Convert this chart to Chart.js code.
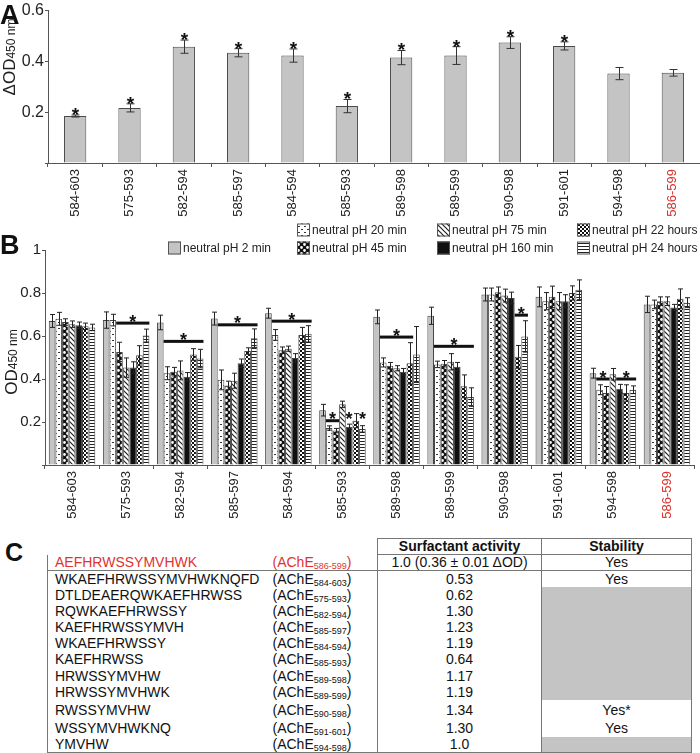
<!DOCTYPE html>
<html>
<head>
<meta charset="utf-8">
<script src="https://cdn.jsdelivr.net/npm/chart.js@4.4.1/dist/chart.umd.min.js"></script>
<style>
  body { margin: 0; background: #fff; font-family: "Liberation Sans", Arial, sans-serif; }
  #page { position: relative; width: 700px; height: 753px; overflow: hidden; }
  #boxA { position: absolute; left: 0; top: 0; }
  #boxB { position: absolute; left: 0; top: 222px; }
  #letterC { position: absolute; left: 5px; top: 538px; font-size: 25px; font-weight: bold; color: #111; }
  #tableC { position: absolute; left: 47px; top: 538px; border-collapse: collapse; table-layout: fixed; font-size: 14px; color: #111; }
  #tableC tr { height: 16.2px; }
  #tableC td { padding: 0; height: 16.2px; line-height: 15px; white-space: nowrap; overflow: hidden; box-sizing: border-box; }
  #tableC th { padding: 0; height: 14px; line-height: 13px; font-size: 14px; border: 1px solid #777; }
  #tableC sub { font-size: 9px; line-height: 0; vertical-align: -2px; }
  .seq { padding-left: 7px !important; border-left: 1px solid #777; }
  .rng { border-right: 1px solid #777; }
  .val { text-align: center; border-right: 1px solid #777; }
  .stab { text-align: center; border-right: 1px solid #777; }
  .gray { background: #c4c4c4; }
  .red { color: #e0332f; }
  .first td { border-bottom: 1px solid #777; }
  .last td { border-bottom: 1px solid #777; }
</style>
</head>
<body>
<div id="page">
  <div id="boxA"><canvas id="chartA" width="700" height="222"></canvas></div>
  <div id="boxB"><canvas id="chartB" width="700" height="312"></canvas></div>
  <div id="letterC">C</div>
  <table id="tableC">
    <colgroup><col style="width:225px"><col style="width:105px"><col style="width:164px"><col style="width:150px"></colgroup>
    <thead><tr><td colspan="2" style="border:none"></td><th>Surfactant activity</th><th>Stability</th></tr></thead>
    <tbody id="tableBody"></tbody>
  </table>
</div>

<script>
// ================= DATA =================
const peptideLabels = ["584-603", "575-593", "582-594", "585-597", "584-594", "585-593",
  "589-598", "589-599", "590-598", "591-601", "594-598", "586-599"];
const highlightLabel = "586-599";

// panel A
const deltaOD = [0.185, 0.217, 0.458, 0.434, 0.423, 0.224, 0.415, 0.423, 0.474, 0.461, 0.352, 0.355];
const deltaODErr = [0.004, 0.016, 0.026, 0.016, 0.026, 0.026, 0.028, 0.035, 0.023, 0.016, 0.024, 0.013];
const starredA = [true, true, true, true, true, true, true, true, true, true, false, false];

// panel B
const seriesNames = ["neutral pH 2 min", "neutral pH 20 min", "neutral pH 45 min", "neutral pH 75 min",
  "neutral pH 160 min", "neutral pH 22 hours", "neutral pH 24 hours"];
const od2min   = [0.670, 0.674, 0.663, 0.681, 0.706, 0.255, 0.689, 0.694, 0.793, 0.782, 0.427, 0.747];
const od20min  = [0.680, 0.674, 0.427, 0.396, 0.605, 0.172, 0.477, 0.468, 0.793, 0.762, 0.350, 0.747];
const od45min  = [0.665, 0.526, 0.434, 0.370, 0.534, 0.160, 0.462, 0.471, 0.803, 0.782, 0.335, 0.762];
const od75min  = [0.655, 0.453, 0.440, 0.392, 0.541, 0.282, 0.450, 0.480, 0.788, 0.762, 0.422, 0.762];
const od160min = [0.650, 0.453, 0.410, 0.473, 0.498, 0.178, 0.434, 0.457, 0.777, 0.762, 0.355, 0.732];
const od22h    = [0.645, 0.510, 0.514, 0.530, 0.605, 0.206, 0.473, 0.366, 0.503, 0.800, 0.335, 0.773];
const od24h    = [0.640, 0.602, 0.495, 0.590, 0.610, 0.168, 0.514, 0.316, 0.598, 0.815, 0.350, 0.755];

const err2min   = [0.030, 0.038, 0.034, 0.030, 0.023, 0.027, 0.032, 0.040, 0.030, 0.046, 0.023, 0.038];
const err20min  = [0.030, 0.027, 0.030, 0.046, 0.025, 0.010, 0.021, 0.015, 0.030, 0.040, 0.023, 0.020];
const err45min  = [0.015, 0.045, 0.020, 0.020, 0.015, 0.010, 0.015, 0.015, 0.025, 0.050, 0.030, 0.020];
const err75min  = [0.015, 0.045, 0.044, 0.035, 0.012, 0.015, 0.012, 0.038, 0.030, 0.040, 0.027, 0.020];
const err160min = [0.015, 0.027, 0.020, 0.020, 0.020, 0.012, 0.015, 0.020, 0.027, 0.030, 0.020, 0.015];
const err22h    = [0.015, 0.045, 0.027, 0.015, 0.035, 0.033, 0.096, 0.053, 0.053, 0.033, 0.038, 0.046];
const err24h    = [0.015, 0.030, 0.043, 0.043, 0.038, 0.015, 0.130, 0.043, 0.073, 0.046, 0.018, 0.023];

// significance marks in B: group, first series, last series, level of bar
const sigGroup = [1, 2, 3, 4, 5, 5, 5, 6, 7, 8, 10, 10];
const sigFrom  = [2, 1, 1, 1, 1, 4, 6, 1, 1, 5, 1, 4];
const sigTo    = [6, 6, 6, 6, 2, 4, 6, 5, 6, 6, 2, 6];
const sigLevel = [0.660, 0.575, 0.652, 0.669, 0.206, 0.206, 0.206, 0.595, 0.552, 0.697, 0.400, 0.400];

// panel C
const tableSequences = ["AEFHRWSSYMVHWK", "WKAEFHRWSSYMVHWKNQFD", "DTLDEAERQWKAEFHRWSS", "RQWKAEFHRWSSY",
  "KAEFHRWSSYMVH", "WKAEFHRWSSY", "KAEFHRWSS", "HRWSSYMVHW", "HRWSSYMVHWK", "RWSSYMVHW", "WSSYMVHWKNQ", "YMVHW"];
const tableRanges = ["586-599", "584-603", "575-593", "582-594", "585-597", "584-594", "585-593",
  "589-598", "589-599", "590-598", "591-601", "594-598"];
const tableActivity = ["1.0 (0.36 \u00b1 0.01 \u0394OD)", "0.53", "0.62", "1.30", "1.23", "1.19", "0.64",
  "1.17", "1.19", "1.34", "1.30", "1.0"];
const tableStability = ["Yes", "Yes", null, null, null, null, null, null, null, "Yes*", "Yes", null];

// ================= STYLE =================
const FONT = "'Liberation Sans', Arial, sans-serif";
const RED = "#d9302b";
Chart.defaults.font.family = FONT;

function makePattern(size, draw) {
  const c = document.createElement("canvas");
  c.width = c.height = size;
  const g = c.getContext("2d");
  draw(g, size);
  return g.createPattern(c, "repeat");
}

const FILLS = [
  "#c4c4c4",
  makePattern(6, (g) => { g.fillStyle = "#fff"; g.fillRect(0, 0, 6, 6); g.fillStyle = "#333"; g.fillRect(1, 1, 2, 1); g.fillRect(4, 4, 2, 1); }),
  makePattern(6, (g) => {
    g.fillStyle = "#111"; g.fillRect(0, 0, 6, 6); g.fillStyle = "#fff";
    g.beginPath(); g.arc(1.5, 1.5, 1.4, 0, Math.PI * 2); g.arc(4.5, 4.5, 1.4, 0, Math.PI * 2); g.fill();
  }),
  makePattern(5, (g) => {
    g.fillStyle = "#fff"; g.fillRect(0, 0, 5, 5); g.strokeStyle = "#222"; g.lineWidth = 1.2;
    g.beginPath(); g.moveTo(-1, -1); g.lineTo(6, 6); g.moveTo(-1, 4); g.lineTo(1, 6); g.moveTo(4, -1); g.lineTo(6, 1); g.stroke();
  }),
  "#111",
  makePattern(4, (g) => { g.fillStyle = "#fff"; g.fillRect(0, 0, 4, 4); g.fillStyle = "#111"; g.fillRect(0, 0, 2, 2); g.fillRect(2, 2, 2, 2); }),
  makePattern(3, (g) => { g.fillStyle = "#fff"; g.fillRect(0, 0, 3, 3); g.fillStyle = "#222"; g.fillRect(0, 0, 3, 1); })
];

function drawStar(ctx, x, bottom, size) {
  ctx.save();
  ctx.fillStyle = "#111";
  ctx.font = `bold ${size}px ${FONT}`;
  ctx.textAlign = "center";
  ctx.textBaseline = "alphabetic";
  ctx.fillText("*", x, bottom + size * 0.42);
  ctx.restore();
}

function drawErrorBar(ctx, x, top, bot, cap) {
  ctx.beginPath();
  ctx.moveTo(x, top); ctx.lineTo(x, bot);
  ctx.moveTo(x - cap, top); ctx.lineTo(x + cap, top);
  ctx.moveTo(x - cap, bot); ctx.lineTo(x + cap, bot);
  ctx.stroke();
}

// rotated axis title made of [text, size] parts
function drawYTitle(ctx, cx, cy, parts) {
  ctx.save();
  ctx.translate(cx, cy);
  ctx.rotate(-Math.PI / 2);
  ctx.fillStyle = "#222";
  ctx.textBaseline = "middle";
  let total = 0;
  parts.forEach(([t, s]) => { ctx.font = `${s}px ${FONT}`; total += ctx.measureText(t).width; });
  let x = -total / 2;
  parts.forEach(([t, s, dy]) => {
    ctx.font = `${s}px ${FONT}`;
    ctx.fillText(t, x, dy || 0);
    x += ctx.measureText(t).width;
  });
  ctx.restore();
}

function drawLetter(ctx, letter, x, y) {
  ctx.save();
  ctx.fillStyle = "#111";
  ctx.font = `bold 27px ${FONT}`;
  ctx.textBaseline = "alphabetic";
  ctx.fillText(letter, x, y);
  ctx.restore();
}

const xTickColor = (c) => (peptideLabels[c.index] === highlightLabel ? RED : "#222");
const yTickLabel = (v) => (v === 0 ? "" : v === 1 ? "1" : v.toFixed(1));

// ================= PANEL A =================
const panelAExtras = {
  id: "panelAExtras",
  afterDatasetsDraw(chart) {
    const { ctx } = chart;
    const y = chart.scales.y;
    const bars = chart.getDatasetMeta(0).data;
    ctx.save();
    ctx.strokeStyle = "#333";
    ctx.lineWidth = 1;
    bars.forEach((bar, i) => {
      const x = Math.round(bar.x) + 0.5;
      const top = y.getPixelForValue(deltaOD[i] + deltaODErr[i]);
      const bot = y.getPixelForValue(deltaOD[i] - deltaODErr[i]);
      drawErrorBar(ctx, x, top, bot, 4);
      if (starredA[i]) drawStar(ctx, x, top - 2, 19);
    });
    ctx.restore();
    drawLetter(ctx, "A", 0, 24);
    drawYTitle(ctx, 10, 57, [["\u0394OD", 17], ["450 nm", 12, 2]]);
  }
};

new Chart(document.getElementById("chartA"), {
  type: "bar",
  data: {
    labels: peptideLabels,
    datasets: [{
      data: deltaOD,
      backgroundColor: FILLS[0],
      borderColor: "#4a4a4a",
      borderWidth: 1,
      categoryPercentage: 0.41,
      barPercentage: 1
    }]
  },
  options: {
    responsive: false,
    animation: false,
    layout: { padding: { top: 10, right: 0 } },
    plugins: { legend: { display: false }, tooltip: { enabled: false } },
    scales: {
      x: {
        grid: { drawOnChartArea: false, tickLength: 4, color: "#555" },
        border: { color: "#555" },
        ticks: { minRotation: 90, maxRotation: 90, font: { size: 13 }, color: xTickColor, padding: 2 },
        afterFit: (s) => { s.height = 59; }
      },
      y: {
        min: 0,
        max: 0.6,
        grid: { drawOnChartArea: false, tickLength: 3, color: "#555" },
        border: { color: "#555" },
        ticks: { stepSize: 0.2, font: { size: 16 }, color: "#222", padding: 1, callback: yTickLabel },
        afterFit: (s) => { s.width = 48; }
      }
    }
  },
  plugins: [panelAExtras]
});

// ================= PANEL B =================
const seriesValues = [od2min, od20min, od45min, od75min, od160min, od22h, od24h];
const seriesErrors = [err2min, err20min, err45min, err75min, err160min, err22h, err24h];

const panelBExtras = {
  id: "panelBExtras",
  afterDatasetsDraw(chart) {
    const { ctx } = chart;
    const y = chart.scales.y;
    ctx.save();
    ctx.strokeStyle = "#222";
    ctx.lineWidth = 1;
    seriesValues.forEach((vals, d) => {
      chart.getDatasetMeta(d).data.forEach((bar, i) => {
        const x = Math.round(bar.x) + 0.5;
        const top = y.getPixelForValue(vals[i] + seriesErrors[d][i]);
        const bot = y.getPixelForValue(vals[i] - seriesErrors[d][i]);
        drawErrorBar(ctx, x, top, bot, 2.5);
      });
    });
    ctx.restore();

    // significance lines and stars
    ctx.save();
    ctx.fillStyle = "#111";
    sigGroup.forEach((g, k) => {
      const a = chart.getDatasetMeta(sigFrom[k]).data[g];
      const b = chart.getDatasetMeta(sigTo[k]).data[g];
      const left = a.x - a.width / 2;
      const right = b.x + b.width / 2;
      const ly = y.getPixelForValue(sigLevel[k]);
      if (sigFrom[k] !== sigTo[k]) ctx.fillRect(left, ly - 1.5, right - left, 3);
      drawStar(ctx, (left + right) / 2, ly - 3, 18);
    });
    ctx.restore();

    // legend
    const spots = [[168, 26], [297, 8], [297, 26], [437, 8], [437, 26], [577, 8], [577, 26]];
    ctx.save();
    ctx.font = `12px ${FONT}`;
    ctx.textBaseline = "middle";
    seriesNames.forEach((name, d) => {
      const [lx, ly] = spots[d];
      ctx.fillStyle = FILLS[d];
      ctx.fillRect(lx, ly - 6.5, 13, 13);
      ctx.strokeStyle = "#555";
      ctx.strokeRect(lx + 0.5, ly - 6, 12, 12);
      ctx.fillStyle = "#222";
      ctx.fillText(name, lx + 15, ly + 1);
    });
    ctx.restore();

    drawLetter(ctx, "B", 0, 32);
    drawYTitle(ctx, 12, 140, [["OD", 17], ["450 nm", 12, 2]]);
  }
};

new Chart(document.getElementById("chartB"), {
  type: "bar",
  data: {
    labels: peptideLabels,
    datasets: seriesNames.map((name, d) => ({
      label: name,
      data: seriesValues[d],
      backgroundColor: FILLS[d],
      borderColor: "#444",
      borderWidth: 1,
      categoryPercentage: 0.86,
      barPercentage: 1
    }))
  },
  options: {
    responsive: false,
    animation: false,
    layout: { padding: { top: 28, right: 6 } },
    plugins: { legend: { display: false }, tooltip: { enabled: false } },
    scales: {
      x: {
        grid: { drawOnChartArea: false, tickLength: 4, color: "#555" },
        border: { color: "#555" },
        ticks: { minRotation: 90, maxRotation: 90, font: { size: 13 }, color: xTickColor, padding: 2 },
        afterFit: (s) => { s.height = 69; }
      },
      y: {
        min: 0,
        max: 1,
        grid: { drawOnChartArea: false, tickLength: 3, color: "#555" },
        border: { color: "#555" },
        ticks: { stepSize: 0.2, font: { size: 15 }, color: "#222", padding: 1, callback: yTickLabel },
        afterFit: (s) => { s.width = 45; }
      }
    }
  },
  plugins: [panelBExtras]
});

// ================= PANEL C =================
const tbody = document.getElementById("tableBody");
tableSequences.forEach((seq, i) => {
  const tr = document.createElement("tr");
  if (i === 0) tr.className = "first";
  if (i === tableSequences.length - 1) tr.className = "last";
  const redCls = tableRanges[i] === highlightLabel ? " red" : "";
  const stab = tableStability[i];
  const tall = stab === "Yes*" ? ' style="height:20px"' : "";
  tr.innerHTML = `
    <td class="seq${redCls}"${tall}>${seq}</td>
    <td class="rng${redCls}"${tall}>(AChE<sub>${tableRanges[i]}</sub>)</td>
    <td class="val"${tall}>${tableActivity[i]}</td>
    <td class="stab${stab ? "" : " gray"}"${tall}>${stab || ""}</td>`;
  tbody.appendChild(tr);
});
</script>
</body>
</html>
